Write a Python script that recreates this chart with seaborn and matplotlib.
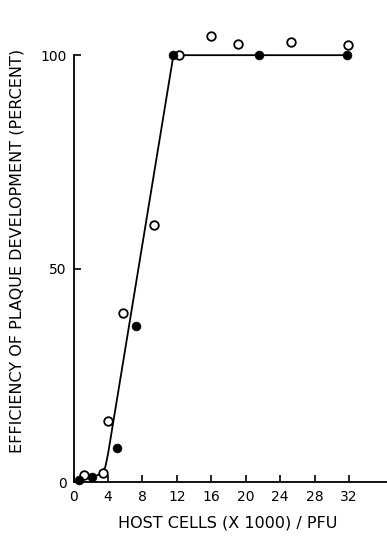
import numpy as np
import pandas as pd
import seaborn as sns
import matplotlib.pyplot as plt

# filled circles
filled_x = [0.6, 2.1, 5.1, 7.3, 11.6, 21.5, 31.8]
filled_y = [0.5, 1.1, 8.0, 36.5, 100, 100, 100]

# open circles
open_x = [1.25, 3.4, 3.95, 5.8, 9.35, 12.2, 16.0, 19.1, 25.2, 31.9]
open_y = [1.6, 2.0, 14.4, 39.6, 60.2, 100, 104.4, 102.7, 103.0, 102.5]

# hand-drawn fit line
fit_x = [0.6, 2.1, 3.3, 3.7, 4.0, 11.6, 32.0]
fit_y = [0.5, 1.1, 2.0, 3.6, 6.5, 100, 100]

xticks = [0, 4, 8, 12, 16, 20, 24, 28, 32]
yticks = [0, 50, 100]

sns.set_style("ticks", {"text.color": "black", "axes.labelcolor": "black",
                        "xtick.color": "black", "ytick.color": "black",
                        "axes.edgecolor": "black"})
plt.rcParams["font.family"] = ["DejaVu Sans"]

fig = plt.figure(figsize=(3.87, 5.36), dpi=100)
ax = fig.add_axes([0.19, 0.1007, 0.81, 0.876])

fit = pd.DataFrame({"x": fit_x, "y": fit_y})
sns.lineplot(data=fit, x="x", y="y", color="black", linewidth=1.3, sort=False, ax=ax)

sns.scatterplot(x=open_x, y=open_y, marker="o", s=38, facecolor="white",
                edgecolor="black", linewidth=1.3, zorder=4, clip_on=False, ax=ax)
sns.scatterplot(x=filled_x, y=filled_y, marker="o", s=40, color="black",
                edgecolor="black", linewidth=0.5, zorder=5, clip_on=False, ax=ax)

ax.set_xlim(0, 36.4)
ax.set_ylim(0, 110)
ax.set_xticks(xticks)
ax.set_yticks(yticks)
ax.tick_params(direction="in", length=5, width=1.2, labelsize=10, pad=5,
               colors="black")
ax.tick_params(axis="x", pad=6)

ax.spines["top"].set_visible(False)
ax.spines["right"].set_visible(False)
ax.spines["left"].set_bounds(0, 100)
ax.spines["left"].set_linewidth(1.3)
ax.spines["bottom"].set_linewidth(1.3)

ax.set_xlabel("HOST CELLS (X 1000) / PFU", fontsize=11.5, color="black")
ax.xaxis.set_label_coords(0.491, -0.072)
ax.xaxis.label.set_va("top")
ax.set_ylabel("EFFICIENCY OF PLAQUE DEVELOPMENT (PERCENT)", fontsize=11.5,
              color="black")
ax.yaxis.set_label_coords(-0.158, 0.4925)

fig.savefig("out.png", dpi=100)
